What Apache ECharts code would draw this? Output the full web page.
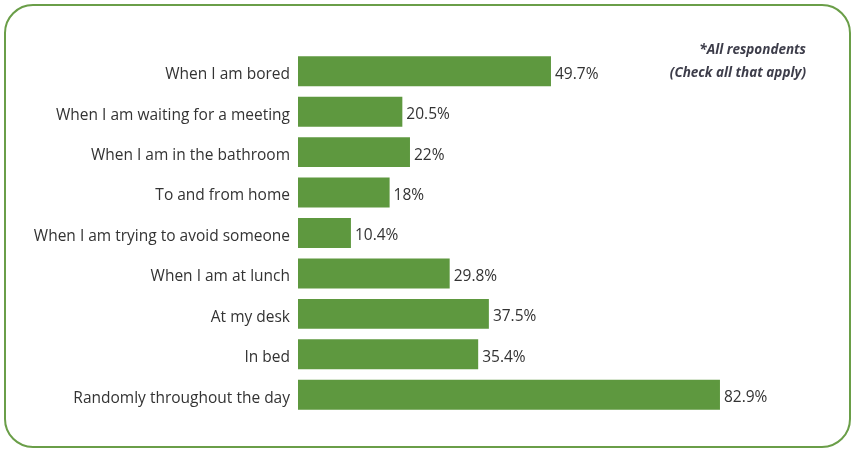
<!DOCTYPE html>
<html><head><meta charset="utf-8">
<script src="https://cdn.jsdelivr.net/npm/echarts@6/dist/echarts.min.js"></script>
<style>html,body{margin:0;padding:0;background:#fff}#c{width:856px;height:455px}</style>
</head><body><div id="c"></div>
<script>
var categories = ["When I am bored","When I am waiting for a meeting","When I am in the bathroom","To and from home","When I am trying to avoid someone","When I am at lunch","At my desk","In bed","Randomly throughout the day"];
var values = [49.7,20.5,22,18,10.4,29.8,37.5,35.4,82.9];
var noteLines = ["*All respondents","(Check all that apply)"];
var font = "'Open Sans', 'Noto Sans', sans-serif";
var chart = echarts.init(document.getElementById('c'));
chart.setOption({
  animation:false,
  grid:{left:298,right:49,top:51,bottom:40},
  xAxis:{type:'value',min:0,max:100,show:false},
  yAxis:{type:'category',inverse:true,data:categories,
    axisLine:{show:false},axisTick:{show:false},
    axisLabel:{color:'#333',fontSize:15.5,fontFamily:font,margin:8,
      formatter:function(v){return '{a|'+v+'}';},
      rich:{a:{color:'#333',fontSize:15.5,fontFamily:font,padding:[7,0,0,0]}}}},
  series:[{type:'bar',data:values,barCategoryGap:'26%',
    itemStyle:{color:'#5e983f'},
    label:{show:true,position:'right',distance:4,offset:[0,3],formatter:'{c}%',color:'#333',fontSize:15.5,fontFamily:font}}],
  graphic:[
    {type:'rect',shape:{x:5,y:5,width:845,height:442,r:28},style:{fill:'none',stroke:'#6a9e48',lineWidth:2}},
    {type:'text',style:{x:806,y:50,text:noteLines[0],align:'right',verticalAlign:'middle',fill:'#3d3d4a',font:'italic bold 13.5px '+font}},
    {type:'text',style:{x:806,y:73,text:noteLines[1],align:'right',verticalAlign:'middle',fill:'#3d3d4a',font:'italic bold 13.5px '+font}}
  ]
});
</script></body></html>
